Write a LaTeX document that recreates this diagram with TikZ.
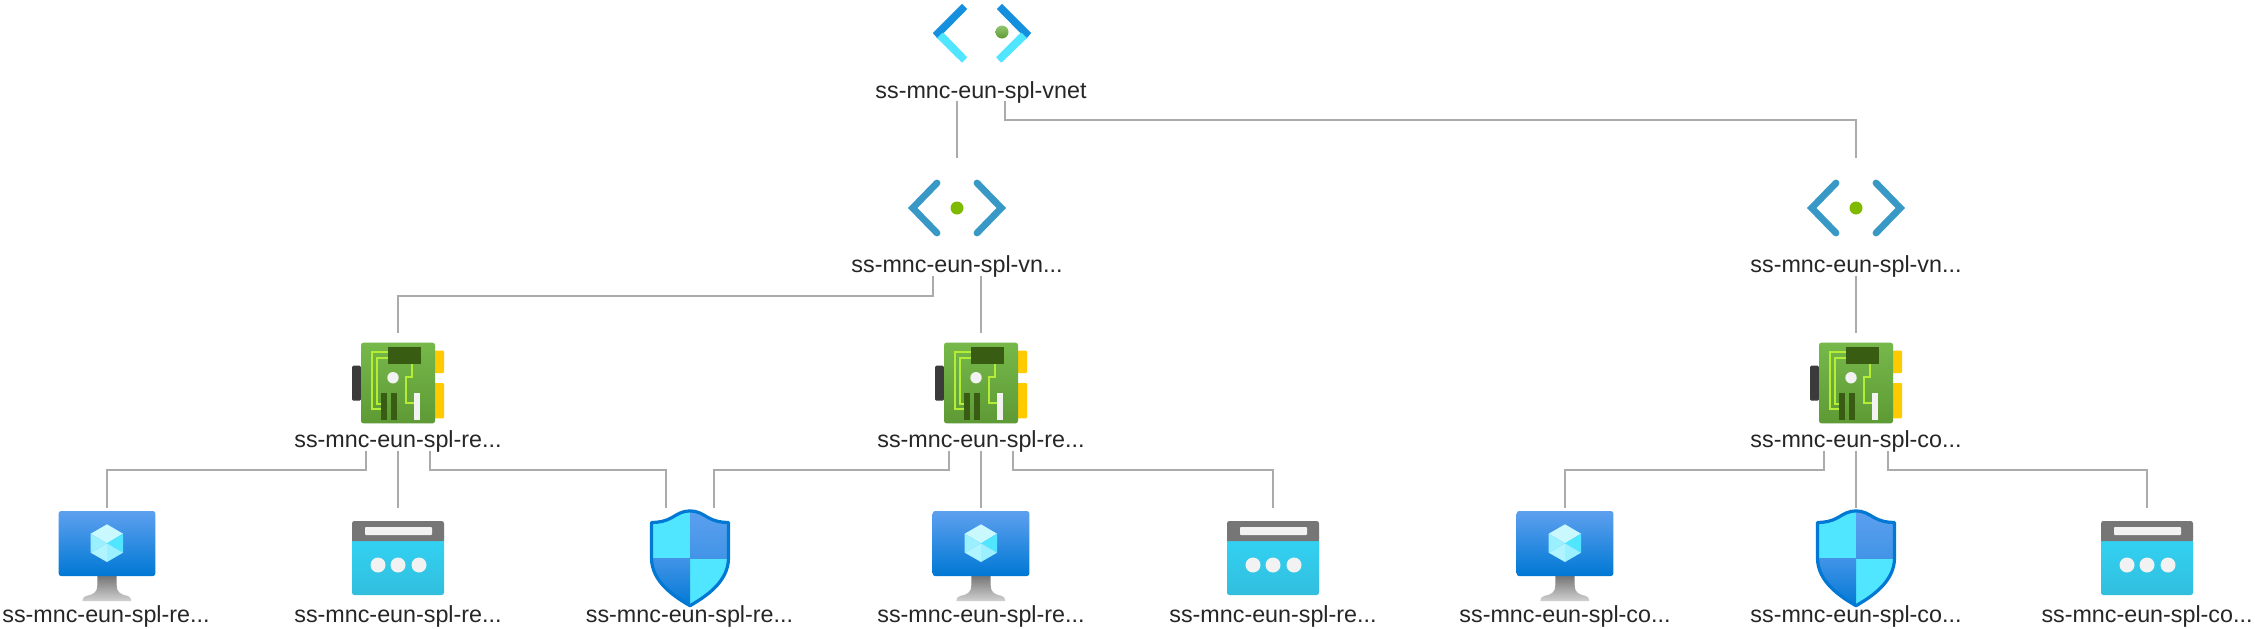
\documentclass[tikz,border=0pt]{standalone}
\usepackage{fontspec}
\setmainfont{Liberation Sans}
\definecolor{wirec}{HTML}{ABABAB}
\definecolor{vnetdark}{HTML}{1490DF}
\definecolor{vnetlight}{HTML}{50E6FF}
\definecolor{subnetc}{HTML}{3999C6}
\definecolor{dotc}{HTML}{7FBA00}
\definecolor{nictop}{HTML}{76B84A}
\definecolor{nicbot}{HTML}{5E9A35}
\definecolor{nicdark}{HTML}{375C12}
\definecolor{nictrace}{HTML}{B4EC36}
\definecolor{nicgray}{HTML}{3B3B3B}
\definecolor{nicyellow}{HTML}{FFCA00}
\definecolor{offwhite}{HTML}{F2F2F2}
\definecolor{azblue}{HTML}{0078D4}
\definecolor{azsky}{HTML}{5EA0EF}
\definecolor{barc}{HTML}{767676}
\definecolor{webtop}{HTML}{32D4F5}
\definecolor{webbot}{HTML}{32BEDD}
\tikzset{
  x=0.5pt,y=-0.5pt,
  wire/.style={draw=wirec,line width=1pt},
  slot/.style={inner sep=0pt,outer sep=0pt,minimum size=49pt},
  lab/.style={anchor=base,inner xsep=0pt,inner ysep=0pt,outer sep=0pt,text depth=1.6pt,font=\fontsize{11.65pt}{14pt}\selectfont,text=black!85},
  icon/.style={yshift=-0.5pt},
  pics/vnetmain/.style={code={
    \filldraw[vnetdark,line width=0.5pt,line join=round] (-48.5,0)--(-20,-28.5)--(-15.5,-24)--(-39,0)--(-44.3,5)--cycle;
    \filldraw[vnetlight,line width=0.5pt,line join=round] (-44.3,5)--(-39,0)--(-15.5,24.3)--(-20,29)--cycle;
    \filldraw[vnetdark,line width=0.5pt,line join=round] (48.5,0)--(20,-28.5)--(15.5,-24)--(39,0)--(44.3,5)--cycle;
    \filldraw[vnetlight,line width=0.5pt,line join=round] (44.3,5)--(39,0)--(14.8,24.3)--(19.3,29)--cycle;
    \shade[top color=nictop!80!white,bottom color=nicbot] (20,-1) circle[radius=6.5];
  }},
  pics/vnetsub/.style={code={
    \draw[subnetc,line width=3.4pt,line cap=round,miter limit=10] (-20,-25)--(-44.3,0)--(-20,25);
    \draw[subnetc,line width=3.4pt,line cap=round,miter limit=10] (20,-25)--(44.3,0)--(20,25);
    \fill[dotc] (0,0) circle[radius=6.5];
  }},
  pics/nicicon/.style={code={
    \fill[nicgray,rounded corners=0.7pt] (-37,-17.3)--(-46,-17.3)--(-46,17.7)--(-37,17.7)--cycle;
    \fill[nicyellow,rounded corners=0.5pt] (35,-32.3)--(46,-32.3)--(46,-10)--(35,-10)--cycle;
    \fill[nicyellow,rounded corners=0.5pt] (35,0)--(46,0)--(46,35.3)--(35,35.3)--cycle;
    \shade[top color=nictop,bottom color=nicbot,rounded corners=1.2pt] (-37,-40.3) rectangle (37,40.3);
    \draw[nictrace,line width=1pt] (-10,-30.7)--(-25.7,-30.7)--(-25.7,26)--(-16.7,26);
    \draw[nictrace,line width=1pt] (-10,-25)--(-20.7,-25)--(-20.7,21)--(-16.7,21);
    \draw[nictrace,line width=1pt] (14,-19.3)--(14,-5.7)--(7.7,-5.7)--(7.7,20)--(15.7,20);
    \fill[nicdark] (-10.3,-36) rectangle (22.7,-19.3);
    \fill[nicdark] (-16.7,10) rectangle (-11,36.7);
    \fill[nicdark] (-6.7,10) rectangle (-0.7,36.7);
    \fill[offwhite] (15.7,10) rectangle (21.7,36.7);
    \fill[offwhite] (-5,-5.3) circle[radius=5.7];
  }},
  pics/vmicon/.style={code={
    \shade[top color=barc,bottom color=black!18]
      (-9.7,18)--(-9.7,27) .. controls (-9.7,35) and (-14,36.5) .. (-21,38)
      .. controls (-23.5,38.6) and (-24.7,40.5) .. (-24.7,43)--(24.3,43)
      .. controls (24.3,40.5) and (23,38.6) .. (21,38)
      .. controls (14,36.5) and (9.7,35) .. (9.7,27)--(9.7,18)--cycle;
    \shade[top color=azsky,bottom color=azblue,rounded corners=1.2pt] (-48.3,-47) rectangle (48.3,18);
    \fill[white!70!vnetlight] (0,-33.7)--(16,-24.3)--(0,-14.7)--(-16.3,-24.3)--cycle;
    \fill[vnetlight] (16,-24.3)--(16,-5.3)--(0,-14.7)--cycle;
    \fill[white!42!vnetlight] (16,-5.3)--(0,4)--(0,-14.7)--cycle;
    \fill[white!55!vnetlight] (-16.3,-5.3)--(0,4)--(0,-14.7)--cycle;
    \fill[white!42!vnetlight] (-16.3,-24.3)--(-16.3,-5.3)--(0,-14.7)--cycle;
  }},
  pics/webicon/.style={code={
    \shade[top color=webtop,bottom color=webbot,rounded corners=1.2pt] (-46,-25) rectangle (46,37);
    \fill[barc,rounded corners=1.2pt] (-46,-17)--(-46,-37)--(46,-37)--(46,-17)[sharp corners]--cycle;
    \fill[barc] (-46,-22) rectangle (46,-17);
    \fill[offwhite,rounded corners=0.4pt] (-33,-31) rectangle (34,-23);
    \fill[offwhite] (-20,7) circle[radius=7.5];
    \fill[offwhite] (0,7) circle[radius=7.5];
    \fill[offwhite] (21,7) circle[radius=7.5];
  }},
  pics/shieldicon/.style={code={
    \def\shieldpath{(0,-47) .. controls (-8,-47) and (-12,-44) .. (-18,-40.5)
      .. controls (-24,-37) and (-31,-35.5) .. (-38.5,-35.5)
      -- (-38.5,0) .. controls (-38.5,24) and (-15,39) .. (0,47.7)
      .. controls (15,39) and (38.5,24) .. (38.5,0)
      -- (38.5,-35.5) .. controls (31,-35.5) and (24,-37) .. (18,-40.5)
      .. controls (12,-44) and (8,-47) .. (0,-47) -- cycle}
    \begin{scope}
      \clip \shieldpath;
      \fill[vnetlight] (-42,-50) rectangle (0,0);
      \fill[vnetlight] (0,0) rectangle (42,50);
      \shade[top color=azsky,bottom color=azsky!70!azblue] (0,-50) rectangle (42,0);
      \shade[top color=azsky!70!azblue,bottom color=azblue] (-42,0) rectangle (0,50);
    \end{scope}
    \draw[azblue,line width=1.6pt,line join=round] \shieldpath;
  }}
}
\begin{document}
\begin{tikzpicture}
\useasboundingbox (0,0) rectangle (2255,628);
\fill[white] (0,0) rectangle (2255,628);
% slots
\node[slot] (top) at (982,32) {};
\node[slot] (net1) at (957,207) {};
\node[slot] (net2) at (1856,207) {};
\node[slot] (nic1) at (398,382) {};
\node[slot] (nic2) at (981,382) {};
\node[slot] (nic3) at (1856,382) {};
\node[slot] (vm1) at (107,557) {};
\node[slot] (web1) at (398,557) {};
\node[slot] (sh1) at (690,557) {};
\node[slot] (vm2) at (981,557) {};
\node[slot] (web2) at (1273,557) {};
\node[slot] (vm3) at (1565,557) {};
\node[slot] (sh3) at (1856,557) {};
\node[slot] (web3) at (2147,557) {};
% icons
\pic[icon] at (top) {vnetmain};
\pic[icon] at (net1) {vnetsub};
\pic[icon] at (net2) {vnetsub};
\pic[icon] at (nic1) {nicicon};
\pic[icon] at (nic2) {nicicon};
\pic[icon] at (nic3) {nicicon};
\pic[icon] at (vm1) {vmicon};
\pic[icon] at (web1) {webicon};
\pic[icon] at (sh1) {shieldicon};
\pic[icon] at (vm2) {vmicon};
\pic[icon] at (web2) {webicon};
\pic[icon] at (vm3) {vmicon};
\pic[icon] at (sh3) {shieldicon};
\pic[icon] at (web3) {webicon};
% labels
\node[lab] (topl) at (981,98) {ss-mnc-eun-spl-vnet};
\node[lab] (net1l) at (957,272.5) {ss-mnc-eun-spl-vn...};
\node[lab] (net2l) at (1856,272.5) {ss-mnc-eun-spl-vn...};
\node[lab] (nic1l) at (398,447.5) {ss-mnc-eun-spl-re...};
\node[lab] (nic2l) at (981,447.5) {ss-mnc-eun-spl-re...};
\node[lab] (nic3l) at (1856,447.5) {ss-mnc-eun-spl-co...};
\node[lab] (vm1l) at (106,622) {ss-mnc-eun-spl-re...};
\node[lab] (web1l) at (398,622) {ss-mnc-eun-spl-re...};
\node[lab] (sh1l) at (689.5,622) {ss-mnc-eun-spl-re...};
\node[lab] (vm2l) at (981,622) {ss-mnc-eun-spl-re...};
\node[lab] (web2l) at (1273,622) {ss-mnc-eun-spl-re...};
\node[lab] (vm3l) at (1565,622) {ss-mnc-eun-spl-co...};
\node[lab] (sh3l) at (1856,622) {ss-mnc-eun-spl-co...};
\node[lab] (web3l) at (2147,622) {ss-mnc-eun-spl-co...};
% connectors
\draw[wire] ([xshift=-12pt]topl.south) -- (net1.north);
\draw[wire] ([xshift=12pt]topl.south) -- ++(0,19) -| (net2.north);
\draw[wire] ([xshift=-12pt]net1l.south) -- ++(0,20) -| (nic1.north);
\draw[wire] ([xshift=12pt]net1l.south) -- (nic2.north);
\draw[wire] (net2l.south) -- (nic3.north);
\draw[wire] ([xshift=-16pt]nic1l.south) -- ++(0,19) -| (vm1.north);
\draw[wire] (nic1l.south) -- (web1.north);
\draw[wire] ([xshift=16pt]nic1l.south) -- ++(0,19) -| ([xshift=-12pt]sh1.north);
\draw[wire] ([xshift=-16pt]nic2l.south) -- ++(0,19) -| ([xshift=12pt]sh1.north);
\draw[wire] (nic2l.south) -- (vm2.north);
\draw[wire] ([xshift=16pt]nic2l.south) -- ++(0,19) -| (web2.north);
\draw[wire] ([xshift=-16pt]nic3l.south) -- ++(0,19) -| (vm3.north);
\draw[wire] (nic3l.south) -- (sh3.north);
\draw[wire] ([xshift=16pt]nic3l.south) -- ++(0,19) -| (web3.north);
\end{tikzpicture}
\end{document}
